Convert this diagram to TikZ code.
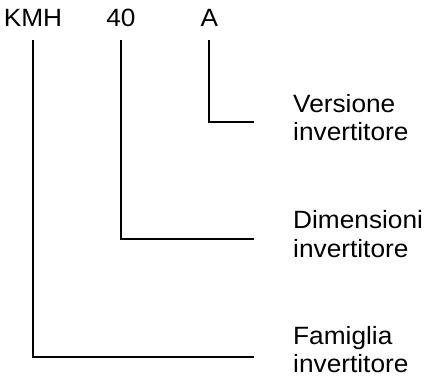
\documentclass[tikz,border=0pt]{standalone}
\usepackage{fontspec}
\setmainfont[FakeStretch=1.05]{Liberation Sans}
\begin{document}
\begin{tikzpicture}[x=1pt,y=-1pt,
  lbl/.style={inner sep=0pt,font=\fontsize{25}{30}\selectfont},
  lead/.style={line width=1.7pt,black}]
\useasboundingbox (0,0) rectangle (428,381);
% top codes
\node[lbl,anchor=base] (kmh) at (33,26) {KMH};
\node[lbl,anchor=base] (n40) at (121,26) {40};
\node[lbl,anchor=base] (a) at (209.5,26) {A};
% right labels
\node[lbl,anchor=base west] (v1) at (293,112) {Versione};
\node[lbl,anchor=base west] (v2) at (293,140) {invertitore};
\node[lbl,anchor=base west] (d1) at (293,228) {Dimensioni};
\node[lbl,anchor=base west] (d2) at (293,257) {invertitore};
\node[lbl,anchor=base west] (f1) at (293,344) {Famiglia};
\node[lbl,anchor=base west] (f2) at (293,372) {invertitore};
% leader coordinates
\coordinate (kt) at (33,40);
\coordinate (kb) at (33,357);
\coordinate (ke) at (254,357);
\coordinate (nt) at (121,40);
\coordinate (nb) at (121,239);
\coordinate (ne) at (254,239);
\coordinate (at) at (209,40);
\coordinate (ab) at (209,122);
\coordinate (ae) at (254,122);
\draw[lead] (kt) -- (kb) -- (ke);
\draw[lead] (nt) -- (nb) -- (ne);
\draw[lead] (at) -- (ab) -- (ae);
\end{tikzpicture}
\end{document}
